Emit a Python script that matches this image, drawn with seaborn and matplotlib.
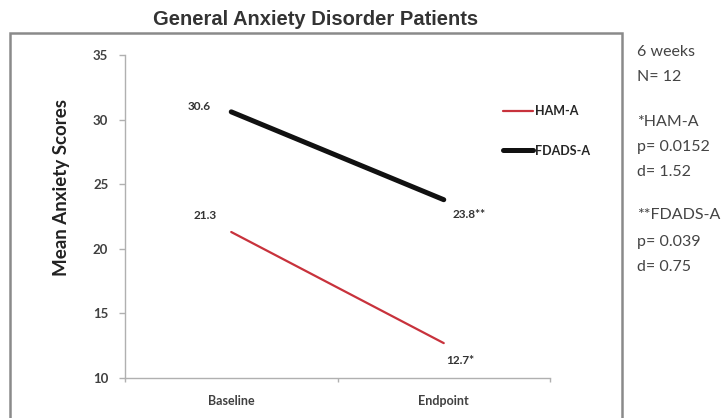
import pandas as pd
import matplotlib.pyplot as plt
import seaborn as sns
from matplotlib.patches import Rectangle

sns.set_theme(style='white')
plt.rcParams['font.family'] = ['Lato', 'DejaVu Sans']

# data
timepoints = ['Baseline', 'Endpoint']
series_names = ['HAM-A', 'FDADS-A']
ham_a = [21.3, 12.7]
fdads_a = [30.6, 23.8]
ham_a_labels = ['21.3', '12.7*']
fdads_a_labels = ['30.6', '23.8**']
y_ticks = [10, 15, 20, 25, 30, 35]
side_notes = ['6 weeks', 'N= 12', '*HAM-A', 'p= 0.0152', 'd= 1.52',
              '**FDADS-A', 'p= 0.039', 'd= 0.75']

df = pd.DataFrame({
    'Time': timepoints * 2,
    'Score': ham_a + fdads_a,
    'Scale': [series_names[0]] * 2 + [series_names[1]] * 2,
})

fig = plt.figure(figsize=(7.24, 4.18), dpi=100)
ax = fig.add_axes([125 / 724, 1 - 378 / 418, 425 / 724, 323 / 418])

palette = {'HAM-A': '#c8323c', 'FDADS-A': '#111111'}
sns.lineplot(data=df, x='Time', y='Score', hue='Scale', palette=palette,
             size='Scale', sizes={'HAM-A': 1.6, 'FDADS-A': 3.6}, ax=ax)

ax.set_xlim(-0.5, 1.5)
ax.set_ylim(10, 35)
ax.set_yticks(y_ticks)
ax.set_xticks([0, 1])
ax.set_xticks([-0.5, 0.5, 1.5], minor=True)
ax.set_xticklabels(timepoints, fontsize=9, fontweight='bold', color='#404040')
ax.set_yticklabels([str(t) for t in y_ticks], fontsize=9.5, fontweight='bold', color='#404040')
ax.tick_params(axis='y', which='major', direction='out', length=4, color='#b0b0b0', width=1, pad=8, left=True)
ax.tick_params(axis='x', which='major', length=0, pad=12)
ax.tick_params(axis='x', which='minor', direction='out', length=3, color='#b0b0b0', width=1, bottom=True)

for side in ['top', 'right']:
    ax.spines[side].set_visible(False)
for side in ['left', 'bottom']:
    ax.spines[side].set_color('#b0b0b0')
    ax.spines[side].set_linewidth(1)

ax.set_xlabel('')
ax.set_ylabel('Mean Anxiety Scores', fontsize=13.5, fontweight='bold', color='#222222')
ax.yaxis.set_label_coords(-0.13, 0.59)

# data labels
offsets_ham = [(-26, 17), (17, -17)]
offsets_fd = [(-32, 5), (25, -15)]
for i in range(2):
    ax.annotate(ham_a_labels[i], xy=(i, ham_a[i]), xytext=offsets_ham[i],
                textcoords='offset pixels', ha='center', va='center',
                fontsize=8.5, fontweight='bold', color='#333333')
    ax.annotate(fdads_a_labels[i], xy=(i, fdads_a[i]), xytext=offsets_fd[i],
                textcoords='offset pixels', ha='center', va='center',
                fontsize=8.5, fontweight='bold', color='#333333')

handles, labels = ax.get_legend_handles_labels()
ax.legend(handles, labels, loc='upper left', bbox_to_anchor=(497 / 724, 1 - 99 / 418),
          bbox_transform=fig.transFigure, frameon=False, borderpad=0,
          handlelength=2.4, handletextpad=0.1, labelspacing=2.2,
          prop={'size': 9, 'weight': 'bold'})

fig.suptitle('General Anxiety Disorder Patients', x=316 / 724, y=1 - 10 / 418,
             va='top', fontsize=14.5, fontweight='bold', color='#333333',
             family='Liberation Sans')

# outer frame
fig.patches.append(Rectangle((10 / 724, -0.02), 612 / 724, 1.02 - 33 / 418,
                             transform=fig.transFigure, fill=False,
                             edgecolor='#8a8a8a', linewidth=1.8))

note_y = [52, 77, 122, 147, 172, 215, 242, 267]
for txt, yy in zip(side_notes, note_y):
    fig.text(637 / 724, 1 - yy / 418, txt, fontsize=11.5, color='#444444',
             ha='left', va='center')

plt.savefig('out.png', dpi=100)
